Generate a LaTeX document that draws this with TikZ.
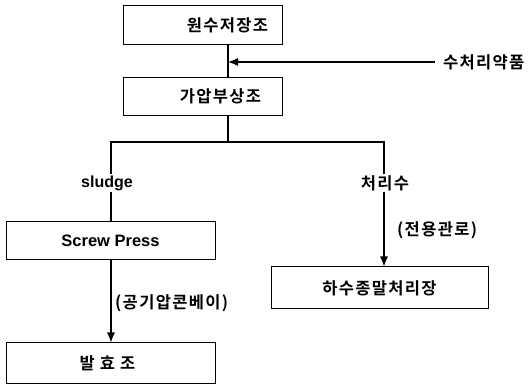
\documentclass[tikz,border=0pt]{standalone}
\usepackage{fontspec}
\usetikzlibrary{arrows.meta}
\newfontfamily\kr[LetterSpace=8]{Noto Sans CJK KR}[BoldFont={* Bold}]
\newfontfamily\lat{Liberation Sans}
\begin{document}
\begin{tikzpicture}[x=1pt,y=-1pt,
  krfont/.style={font=\kr\bfseries\fontsize{16.5}{18}\selectfont},
  box/.style={draw,line width=1pt,inner sep=0pt},
  lbl/.style={inner sep=0pt,krfont},
  ln/.style={line width=1.2pt},
  arr/.style={line width=1.2pt,-{Latex[length=10pt,width=8pt]}}]
\useasboundingbox (0,0) rectangle (531,385);
\node[box,minimum width=159pt,minimum height=39pt,label={[lbl,xshift=25pt]center:원수저장조}] (b1) at (202.5,25.5) {};
\node[box,minimum width=159pt,minimum height=38pt,label={[lbl,xshift=18pt]center:가압부상조}] (b2) at (202.5,96.5) {};
\node[box,minimum width=209pt,minimum height=38pt,font=\lat\bfseries\fontsize{16.5}{18}\selectfont] (b3) at (110.5,241) {Screw Press};
\node[box,minimum width=209pt,minimum height=40pt,label={[lbl,xshift=-3pt]center:발 효 조}] (b4) at (110.5,363) {};
\node[box,minimum width=217pt,minimum height=42pt,krfont] (b5) at (379.5,288) {하수종말처리장};
\coordinate (trunk) at (228,0);
\coordinate (chem) at (435,62);
\node[lbl,anchor=west] (chemlbl) at (443,62) {수처리약품};
\node[lbl,inner sep=1pt,font=\lat\bfseries\fontsize{16}{18}\selectfont] (sl) at (107,183) {sludge};
\node[lbl,inner sep=1pt] (tw) at (385,183) {처리수};
\node[lbl,anchor=west] (conv) at (115,303) {(공기압콘베이)};
\node[lbl,anchor=west] (pipe) at (397,230) {(전용관로)};
\coordinate (bl) at (111,142);
\coordinate (br) at (384,142);
\draw[ln] (trunk |- b1.south) -- (trunk |- b2.north);
\draw[arr] (chem) -- (trunk |- chem);
\draw[ln] (trunk |- b2.south) -- (trunk |- bl);
\draw[ln] (bl |- sl.north) -- (bl) -- (br) -- (br |- tw.north);
\draw[ln] (bl |- sl.south) -- (bl |- b3.north);
\draw[arr] (bl |- b3.south) -- (bl |- b4.north);
\draw[arr] (br |- tw.south) -- (br |- b5.north);
\end{tikzpicture}
\end{document}
